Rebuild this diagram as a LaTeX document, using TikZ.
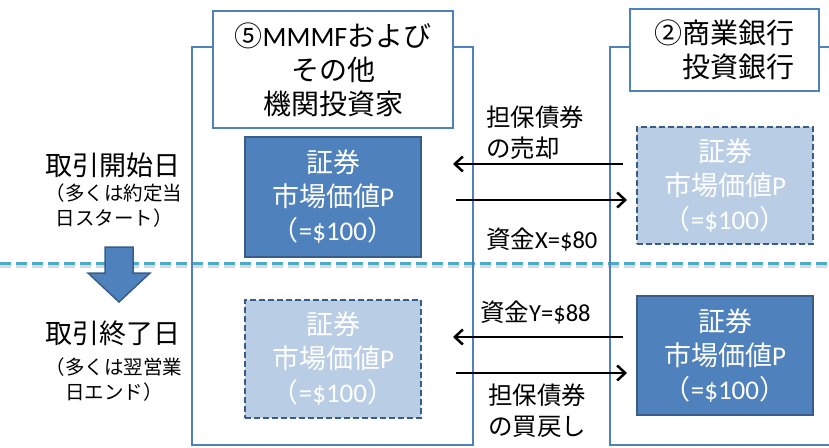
\documentclass[tikz,border=0pt]{standalone}
\usepackage{fontspec}
\setmainfont{Noto Sans CJK JP}
\newfontfamily\lat{Carlito}
\usetikzlibrary{arrows.meta}
\definecolor{accent}{HTML}{4F81BD}
\definecolor{accentdark}{HTML}{385D8A}
\definecolor{lightfill}{HTML}{B9CDE5}
\definecolor{dashteal}{HTML}{4BACC6}
\begin{document}
\begin{tikzpicture}[x=1pt,y=-1pt,
  framebox/.style={draw=accent,line width=2.5pt},
  titlebox/.style={draw=accent,line width=2.5pt,fill=white,inner sep=0pt,
    font=\fontsize{28}{34}\selectfont},
  darkbox/.style={draw=accentdark,line width=2pt,fill=accent,text=white,
    minimum width=176,inner sep=0pt,align=center,font=\fontsize{27}{34}\selectfont},
  lightbox/.style={draw=accentdark,line width=2pt,dash pattern=on 6pt off 3pt,
    fill=lightfill,text=white,minimum width=176,inner sep=0pt,align=center,
    font=\fontsize{27}{34}\selectfont},
  flow/.style={draw=black,line width=2.5pt,-{Straight Barb[length=8pt,width=15pt,line width=2.5pt]}},
  flowlabel/.style={anchor=west,inner sep=0pt,align=left,font=\fontsize{24.5}{31}\selectfont},
  daylabel/.style={inner sep=0pt,align=center,font=\fontsize{27}{32}\selectfont},
  daynote/.style={inner sep=0pt,align=center,font=\fontsize{19.5}{25}\selectfont}
]
\useasboundingbox (0,0) rectangle (829,447);

% date separator
\coordinate (sepL) at (0,263);
\coordinate (sepR) at (829,263);
\draw[black!25,line width=3pt,dash pattern=on 11pt off 5pt,opacity=0.6]
  ([yshift=-3]sepL) -- ([yshift=-3]sepR);
\draw[dashteal,line width=3pt,dash pattern=on 11pt off 5pt] (sepL) -- (sepR);

% party frames
\node[framebox,minimum width=281,minimum height=398,inner sep=0pt] (leftframe) at (332.5,246) {};
\coordinate (rf1) at (835,47);
\coordinate (rf2) at (610,47);
\coordinate (rf3) at (610,445);
\coordinate (rf4) at (835,445);
\draw[framebox] (rf1) -- (rf2) -- (rf3) -- (rf4);

% titles
\node[titlebox,minimum width=240,minimum height=117,align=center] (t5) at (333,69.5)
  {⑤{\lat MMMF}および\\その他\\機関投資家};
\node[titlebox,minimum width=189,minimum height=82,align=right] (t2) at (724.5,50)
  {②商業銀行\\投資銀行};

% securities boxes
\node[darkbox,minimum height=120] (A) at (333,197)
  {証券\\市場価値{\lat P}\\（{\lat =\$100}）};
\node[lightbox,minimum height=117] (B) at (725,185.5)
  {証券\\市場価値{\lat P}\\（{\lat =\$100}）};
\node[lightbox,minimum height=118] (C) at (333,359)
  {証券\\市場価値{\lat P}\\（{\lat =\$100}）};
\node[darkbox,minimum height=119] (D) at (725,355.5)
  {証券\\市場価値{\lat P}\\（{\lat =\$100}）};

% flows
\coordinate (f1s) at (623,164);
\coordinate (f1e) at (453,164);
\coordinate (f2s) at (456,200);
\coordinate (f2e) at (627,200);
\coordinate (f3s) at (623,337);
\coordinate (f3e) at (453,337);
\coordinate (f4s) at (456,373);
\coordinate (f4e) at (627,373);
\draw[flow] (f1s) -- (f1e);
\draw[flow] (f2s) -- (f2e);
\draw[flow] (f3s) -- (f3e);
\draw[flow] (f4s) -- (f4e);

\node[flowlabel] (l1) at (486,133) {担保債券\\の売却};
\node[flowlabel] (l2) at (486,240) {資金{\lat X=\$80}};
\node[flowlabel] (l3) at (480,313) {資金{\lat Y=\$88}};
\node[flowlabel] (l4) at (488,411) {担保債券\\の買戻し};

% day labels
\node[daylabel] (d1) at (113,165) {取引開始日};
\node[daynote] (n1) at (114,206) {（多くは約定当\\日スタート）};
\node[daylabel] (d2) at (113,333) {取引終了日};
\node[daynote] (n2) at (114,380) {（多くは翌営業\\日エンド）};

% down block arrow
\coordinate (ba1) at (105,247);
\coordinate (ba2) at (133,247);
\coordinate (ba3) at (133,273);
\coordinate (ba4) at (150,273);
\coordinate (ba5) at (119,302);
\coordinate (ba6) at (88,273);
\coordinate (ba7) at (105,273);
\draw[fill=accent,draw=accentdark,line width=1.5pt,line join=miter]
  (ba1) -- (ba2) -- (ba3) -- (ba4) -- (ba5) -- (ba6) -- (ba7) -- cycle;
\end{tikzpicture}
\end{document}
